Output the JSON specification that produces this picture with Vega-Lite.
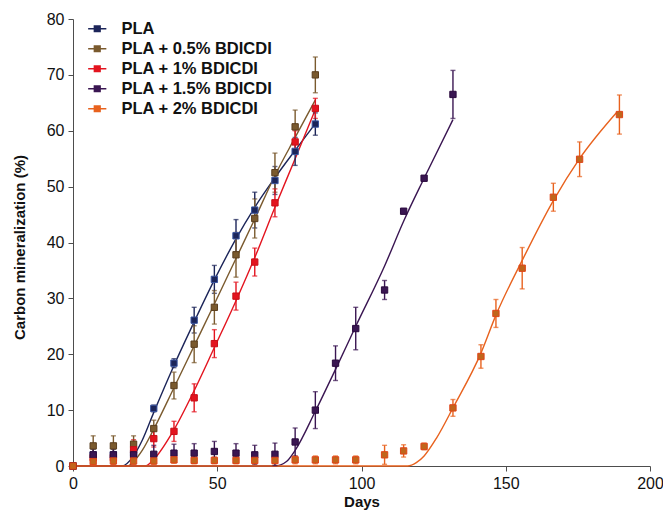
{
  "$schema": "https://vega.github.io/schema/vega-lite/v6.json",
  "autosize": "none",
  "width": 577,
  "height": 447,
  "padding": {"left": 73, "top": 19, "right": 13, "bottom": 47},
  "background": "white",
  "config": {
    "view": {"stroke": null},
    "font": "Liberation Sans",
    "axis": {
      "grid": false,
      "domainColor": "#4d4d4d",
      "tickColor": "#4d4d4d",
      "tickSize": 5,
      "labelFlush": false,
      "labelFont": "Liberation Sans",
      "labelFontSize": 16,
      "labelColor": "#111111",
      "titleFont": "Liberation Sans",
      "titleFontSize": 15,
      "titleFontWeight": "bold",
      "titleColor": "#111111"
    }
  },
  "datasets": {
    "pts": [
      {"s": "PLA", "d": 0, "v": 0, "e": 0},
      {"s": "PLA", "d": 7, "v": 2.0, "e": 1.0},
      {"s": "PLA", "d": 14, "v": 2.0, "e": 1.0},
      {"s": "PLA", "d": 21, "v": 2.3, "e": 1.0},
      {"s": "PLA", "d": 28, "v": 10.3, "e": 0.6},
      {"s": "PLA", "d": 35, "v": 18.4, "e": 0.8},
      {"s": "PLA", "d": 42, "v": 26.1, "e": 2.3},
      {"s": "PLA", "d": 49, "v": 33.4, "e": 2.5},
      {"s": "PLA", "d": 56.5, "v": 41.2, "e": 2.9},
      {"s": "PLA", "d": 63, "v": 45.8, "e": 3.2},
      {"s": "PLA", "d": 70, "v": 51.1, "e": 2.5},
      {"s": "PLA", "d": 77, "v": 56.3, "e": 2.5},
      {"s": "PLA", "d": 84, "v": 61.2, "e": 2.0},
      {"s": "PLA + 0.5% BDICDI", "d": 0, "v": 0, "e": 0},
      {"s": "PLA + 0.5% BDICDI", "d": 7, "v": 3.6, "e": 1.8},
      {"s": "PLA + 0.5% BDICDI", "d": 14, "v": 3.6, "e": 1.8},
      {"s": "PLA + 0.5% BDICDI", "d": 21, "v": 3.9, "e": 1.5},
      {"s": "PLA + 0.5% BDICDI", "d": 28, "v": 6.7, "e": 1.5},
      {"s": "PLA + 0.5% BDICDI", "d": 35, "v": 14.4, "e": 2.4},
      {"s": "PLA + 0.5% BDICDI", "d": 42, "v": 21.8, "e": 3.3},
      {"s": "PLA + 0.5% BDICDI", "d": 49, "v": 28.4, "e": 3.0},
      {"s": "PLA + 0.5% BDICDI", "d": 56.5, "v": 37.8, "e": 4.0},
      {"s": "PLA + 0.5% BDICDI", "d": 63, "v": 44.3, "e": 3.5},
      {"s": "PLA + 0.5% BDICDI", "d": 70, "v": 52.5, "e": 3.5},
      {"s": "PLA + 0.5% BDICDI", "d": 77, "v": 60.7, "e": 3.0},
      {"s": "PLA + 0.5% BDICDI", "d": 84, "v": 70.0, "e": 3.2},
      {"s": "PLA + 1% BDICDI", "d": 0, "v": 0, "e": 0},
      {"s": "PLA + 1% BDICDI", "d": 7, "v": 1.5, "e": 0.8},
      {"s": "PLA + 1% BDICDI", "d": 14, "v": 1.5, "e": 0.8},
      {"s": "PLA + 1% BDICDI", "d": 21, "v": 2.9, "e": 1.8},
      {"s": "PLA + 1% BDICDI", "d": 28, "v": 4.9, "e": 1.5},
      {"s": "PLA + 1% BDICDI", "d": 35, "v": 6.2, "e": 1.8},
      {"s": "PLA + 1% BDICDI", "d": 42, "v": 12.2, "e": 2.5},
      {"s": "PLA + 1% BDICDI", "d": 49, "v": 21.9, "e": 2.5},
      {"s": "PLA + 1% BDICDI", "d": 56.5, "v": 30.4, "e": 2.5},
      {"s": "PLA + 1% BDICDI", "d": 63, "v": 36.5, "e": 2.5},
      {"s": "PLA + 1% BDICDI", "d": 70, "v": 47.1, "e": 2.5},
      {"s": "PLA + 1% BDICDI", "d": 77, "v": 58.0, "e": 2.0},
      {"s": "PLA + 1% BDICDI", "d": 84, "v": 64.0, "e": 1.8},
      {"s": "PLA + 1.5% BDICDI", "d": 0, "v": 0, "e": 0},
      {"s": "PLA + 1.5% BDICDI", "d": 7, "v": 2.0, "e": 1.6},
      {"s": "PLA + 1.5% BDICDI", "d": 14, "v": 2.0, "e": 1.6},
      {"s": "PLA + 1.5% BDICDI", "d": 21, "v": 2.0, "e": 1.6},
      {"s": "PLA + 1.5% BDICDI", "d": 28, "v": 2.1, "e": 1.6},
      {"s": "PLA + 1.5% BDICDI", "d": 35, "v": 2.3, "e": 1.6},
      {"s": "PLA + 1.5% BDICDI", "d": 42, "v": 2.3, "e": 1.7},
      {"s": "PLA + 1.5% BDICDI", "d": 49, "v": 2.6, "e": 1.8},
      {"s": "PLA + 1.5% BDICDI", "d": 56.5, "v": 2.3, "e": 1.7},
      {"s": "PLA + 1.5% BDICDI", "d": 63, "v": 2.0, "e": 1.7},
      {"s": "PLA + 1.5% BDICDI", "d": 70, "v": 2.1, "e": 2.0},
      {"s": "PLA + 1.5% BDICDI", "d": 77, "v": 4.3, "e": 2.5},
      {"s": "PLA + 1.5% BDICDI", "d": 84, "v": 10.0, "e": 3.3},
      {"s": "PLA + 1.5% BDICDI", "d": 91, "v": 18.4, "e": 3.1},
      {"s": "PLA + 1.5% BDICDI", "d": 98, "v": 24.6, "e": 3.8},
      {"s": "PLA + 1.5% BDICDI", "d": 108, "v": 31.5, "e": 1.7},
      {"s": "PLA + 1.5% BDICDI", "d": 114.6, "v": 45.6, "e": 0.4},
      {"s": "PLA + 1.5% BDICDI", "d": 121.7, "v": 51.5, "e": 0.4},
      {"s": "PLA + 1.5% BDICDI", "d": 131.7, "v": 66.5, "e": 4.3},
      {"s": "PLA + 2% BDICDI", "d": 0, "v": 0, "e": 0},
      {"s": "PLA + 2% BDICDI", "d": 7, "v": 0.8, "e": 0.6},
      {"s": "PLA + 2% BDICDI", "d": 14, "v": 0.9, "e": 0.6},
      {"s": "PLA + 2% BDICDI", "d": 21, "v": 0.9, "e": 0.6},
      {"s": "PLA + 2% BDICDI", "d": 28, "v": 0.9, "e": 0.6},
      {"s": "PLA + 2% BDICDI", "d": 35, "v": 1.1, "e": 0.6},
      {"s": "PLA + 2% BDICDI", "d": 42, "v": 1.0, "e": 0.6},
      {"s": "PLA + 2% BDICDI", "d": 49, "v": 1.0, "e": 0.6},
      {"s": "PLA + 2% BDICDI", "d": 56.5, "v": 1.0, "e": 0.6},
      {"s": "PLA + 2% BDICDI", "d": 63, "v": 1.0, "e": 0.6},
      {"s": "PLA + 2% BDICDI", "d": 70, "v": 1.0, "e": 0.6},
      {"s": "PLA + 2% BDICDI", "d": 77, "v": 1.1, "e": 0.7},
      {"s": "PLA + 2% BDICDI", "d": 84, "v": 1.1, "e": 0.7},
      {"s": "PLA + 2% BDICDI", "d": 91, "v": 1.1, "e": 0.7},
      {"s": "PLA + 2% BDICDI", "d": 98, "v": 1.1, "e": 0.7},
      {"s": "PLA + 2% BDICDI", "d": 108, "v": 2.0, "e": 1.7},
      {"s": "PLA + 2% BDICDI", "d": 114.6, "v": 2.7, "e": 1.1},
      {"s": "PLA + 2% BDICDI", "d": 121.7, "v": 3.5, "e": 0.6},
      {"s": "PLA + 2% BDICDI", "d": 131.7, "v": 10.4, "e": 1.5},
      {"s": "PLA + 2% BDICDI", "d": 141.4, "v": 19.6, "e": 2.1},
      {"s": "PLA + 2% BDICDI", "d": 146.6, "v": 27.3, "e": 2.5},
      {"s": "PLA + 2% BDICDI", "d": 155.7, "v": 35.4, "e": 3.7},
      {"s": "PLA + 2% BDICDI", "d": 166.5, "v": 48.1, "e": 2.5},
      {"s": "PLA + 2% BDICDI", "d": 175.6, "v": 54.9, "e": 3.1},
      {"s": "PLA + 2% BDICDI", "d": 189.4, "v": 62.9, "e": 3.5}
    ],
    "fit": [
      {"s": "PLA", "d": 0, "v": 0},
      {"s": "PLA", "d": 17, "v": 0},
      {"s": "PLA", "d": 21, "v": 1.8},
      {"s": "PLA", "d": 24, "v": 4.6},
      {"s": "PLA", "d": 28, "v": 9.6},
      {"s": "PLA", "d": 35, "v": 18.0},
      {"s": "PLA", "d": 42, "v": 25.8},
      {"s": "PLA", "d": 49, "v": 33.3},
      {"s": "PLA", "d": 56, "v": 40.2},
      {"s": "PLA", "d": 63, "v": 46.3},
      {"s": "PLA", "d": 70, "v": 51.6},
      {"s": "PLA", "d": 77, "v": 56.5},
      {"s": "PLA", "d": 84, "v": 61.3},
      {"s": "PLA + 0.5% BDICDI", "d": 0, "v": 0},
      {"s": "PLA + 0.5% BDICDI", "d": 19, "v": 0},
      {"s": "PLA + 0.5% BDICDI", "d": 21, "v": 0.8},
      {"s": "PLA + 0.5% BDICDI", "d": 24, "v": 2.8},
      {"s": "PLA + 0.5% BDICDI", "d": 28, "v": 6.6},
      {"s": "PLA + 0.5% BDICDI", "d": 35, "v": 14.0},
      {"s": "PLA + 0.5% BDICDI", "d": 42, "v": 21.5},
      {"s": "PLA + 0.5% BDICDI", "d": 49, "v": 29.0},
      {"s": "PLA + 0.5% BDICDI", "d": 56, "v": 36.6},
      {"s": "PLA + 0.5% BDICDI", "d": 63, "v": 44.2},
      {"s": "PLA + 0.5% BDICDI", "d": 70, "v": 52.0},
      {"s": "PLA + 0.5% BDICDI", "d": 77, "v": 58.8},
      {"s": "PLA + 0.5% BDICDI", "d": 84, "v": 65.5},
      {"s": "PLA + 1% BDICDI", "d": 0, "v": 0},
      {"s": "PLA + 1% BDICDI", "d": 25, "v": 0},
      {"s": "PLA + 1% BDICDI", "d": 28, "v": 1.2},
      {"s": "PLA + 1% BDICDI", "d": 35, "v": 6.5},
      {"s": "PLA + 1% BDICDI", "d": 42, "v": 13.5},
      {"s": "PLA + 1% BDICDI", "d": 49, "v": 21.2},
      {"s": "PLA + 1% BDICDI", "d": 56, "v": 29.0},
      {"s": "PLA + 1% BDICDI", "d": 63, "v": 37.3},
      {"s": "PLA + 1% BDICDI", "d": 70, "v": 46.3},
      {"s": "PLA + 1% BDICDI", "d": 77, "v": 55.0},
      {"s": "PLA + 1% BDICDI", "d": 84, "v": 63.8},
      {"s": "PLA + 1.5% BDICDI", "d": 0, "v": 0},
      {"s": "PLA + 1.5% BDICDI", "d": 70, "v": 0},
      {"s": "PLA + 1.5% BDICDI", "d": 74, "v": 0.8},
      {"s": "PLA + 1.5% BDICDI", "d": 77, "v": 2.8},
      {"s": "PLA + 1.5% BDICDI", "d": 84, "v": 9.8},
      {"s": "PLA + 1.5% BDICDI", "d": 91, "v": 17.3},
      {"s": "PLA + 1.5% BDICDI", "d": 98, "v": 25.0},
      {"s": "PLA + 1.5% BDICDI", "d": 108, "v": 35.8},
      {"s": "PLA + 1.5% BDICDI", "d": 114.6, "v": 43.8},
      {"s": "PLA + 1.5% BDICDI", "d": 121.7, "v": 51.5},
      {"s": "PLA + 1.5% BDICDI", "d": 131.7, "v": 62.0},
      {"s": "PLA + 2% BDICDI", "d": 0, "v": 0},
      {"s": "PLA + 2% BDICDI", "d": 116, "v": 0},
      {"s": "PLA + 2% BDICDI", "d": 119, "v": 0.6},
      {"s": "PLA + 2% BDICDI", "d": 121.7, "v": 1.8},
      {"s": "PLA + 2% BDICDI", "d": 126, "v": 5.0},
      {"s": "PLA + 2% BDICDI", "d": 131.7, "v": 10.4},
      {"s": "PLA + 2% BDICDI", "d": 141.4, "v": 20.2},
      {"s": "PLA + 2% BDICDI", "d": 146.6, "v": 27.0},
      {"s": "PLA + 2% BDICDI", "d": 155.7, "v": 36.8},
      {"s": "PLA + 2% BDICDI", "d": 166.5, "v": 47.5},
      {"s": "PLA + 2% BDICDI", "d": 175.6, "v": 55.0},
      {"s": "PLA + 2% BDICDI", "d": 188.5, "v": 63.3}
    ]
  },
  "encoding": {
    "x": {
      "field": "d", "type": "quantitative",
      "scale": {"domain": [0, 200], "nice": false, "zero": true, "padding": 0},
      "axis": {"values": [0, 50, 100, 150, 200], "labelPadding": 4, "titlePadding": 3},
      "title": "Days"
    },
    "y": {
      "field": "v", "type": "quantitative",
      "scale": {"domain": [0, 80], "nice": false, "padding": 0},
      "axis": {"values": [0, 10, 20, 30, 40, 50, 60, 70, 80], "labelPadding": 4, "titlePadding": 19, "titleY": 228},
      "title": "Carbon mineralization (%)"
    }
  },
  "layer": [
    {
      "data": {"name": "fit"},
      "mark": {"type": "line", "interpolate": "monotone", "strokeWidth": 1.4},
      "encoding": {
        "detail": {"field": "s"},
        "color": {
          "field": "s", "type": "nominal",
          "scale": {
            "domain": ["PLA", "PLA + 0.5% BDICDI", "PLA + 1% BDICDI", "PLA + 1.5% BDICDI", "PLA + 2% BDICDI"],
            "range": ["#1c2559", "#7a5a2e", "#e3141f", "#3a1652", "#e8621e"]
          },
          "legend": {
            "title": null,
            "orient": "none",
            "legendX": 16,
            "legendY": 1.5,
            "padding": 0,
            "symbolType": "M-1.3,0H1.3M-0.4,-0.4H0.4V0.4H-0.4Z",
            "symbolSize": 196,
            "symbolStrokeWidth": 1.6,
            "labelFont": "Liberation Sans",
            "labelFontSize": 16.5,
            "labelFontWeight": "bold",
            "labelColor": "#111111",
            "labelOffset": 16,
            "rowPadding": 3,
            "encode": {"symbols": {"update": {"stroke": {"scale": "color", "field": "value"}, "fill": {"scale": "color", "field": "value"}}}}
          }
        }
      }
    },
    {
      "data": {"name": "pts"},
      "mark": {"type": "errorbar", "ticks": true, "thickness": 1.4},
      "encoding": {
        "yError": {"field": "e"},
        "color": {"field": "s", "type": "nominal"}
      }
    },
    {
      "data": {"name": "pts"},
      "mark": {"type": "point", "shape": "square", "filled": true, "size": 40, "strokeWidth": 1, "opacity": 1},
      "encoding": {
        "fill": {
          "field": "s", "type": "nominal",
          "scale": {
            "domain": ["PLA", "PLA + 0.5% BDICDI", "PLA + 1% BDICDI", "PLA + 1.5% BDICDI", "PLA + 2% BDICDI"],
            "range": ["#1c2559", "#7a5a2e", "#e3141f", "#3a1652", "#c0661c"]
          },
          "legend": null
        },
        "stroke": {
          "field": "s", "type": "nominal",
          "scale": {
            "domain": ["PLA", "PLA + 0.5% BDICDI", "PLA + 1% BDICDI", "PLA + 1.5% BDICDI", "PLA + 2% BDICDI"],
            "range": ["#3a55a0", "#5a3e1e", "#c81018", "#2a0a3e", "#e04418"]
          },
          "legend": null
        }
      }
    }
  ]
}
